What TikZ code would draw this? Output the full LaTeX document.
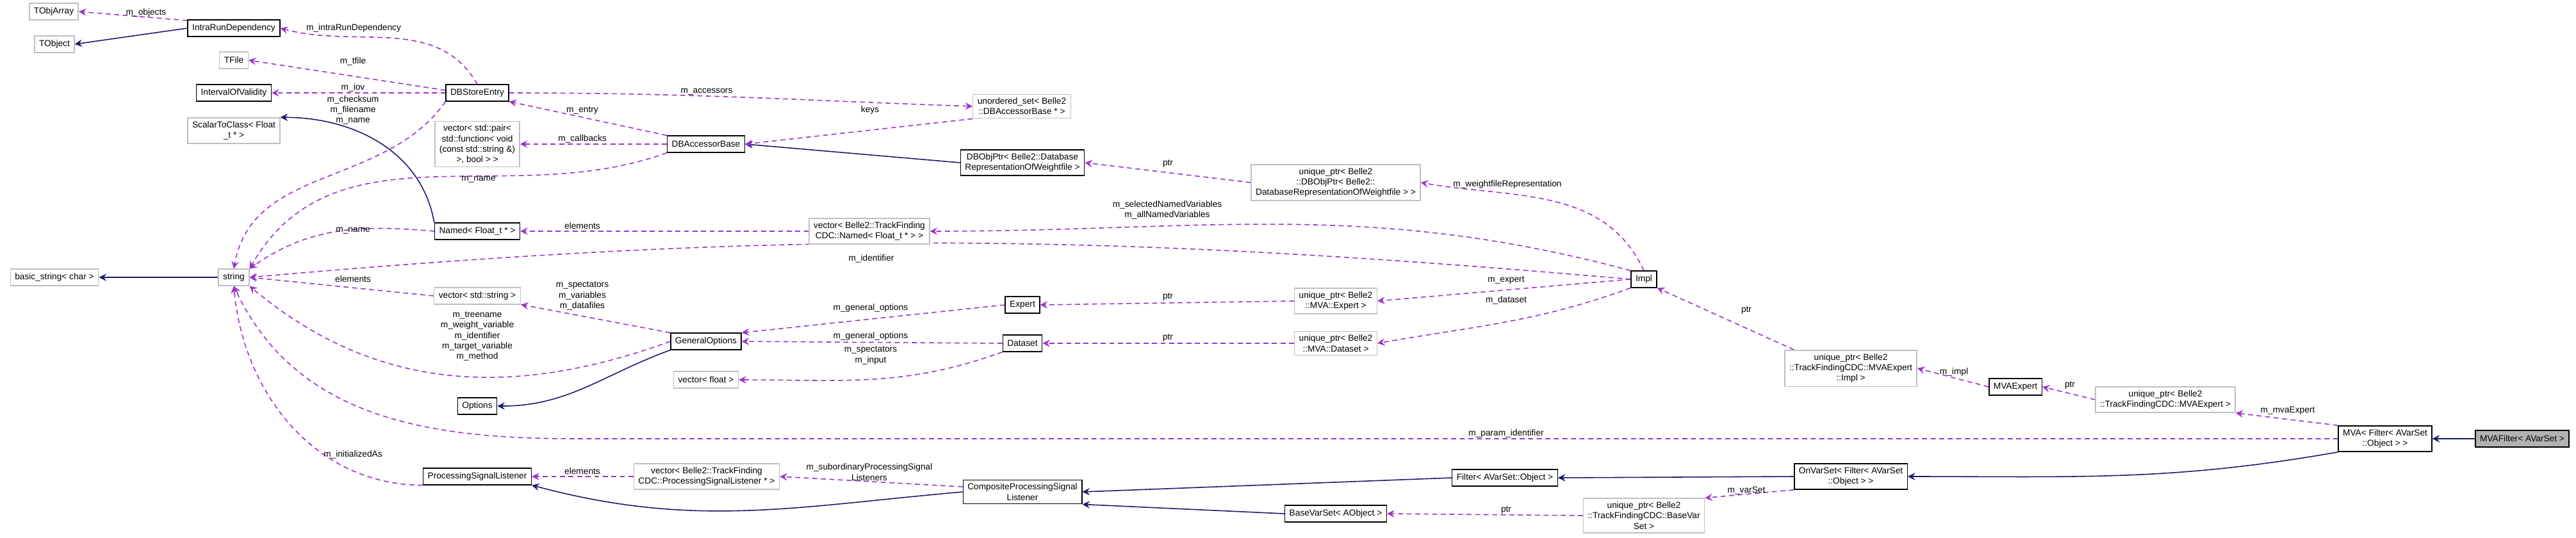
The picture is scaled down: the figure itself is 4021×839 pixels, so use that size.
\documentclass[tikz,border=0pt]{standalone}
\usepackage{fontspec}
\setmainfont{Liberation Sans}
\usepackage{tikz}
\usetikzlibrary{backgrounds}
\definecolor{navy}{rgb}{0.10,0.10,0.44}
\definecolor{usepurple}{rgb}{0.60,0.20,0.80}
\definecolor{grayline}{rgb}{0.75,0.75,0.75}
\newcommand{\tlt}{\textless}
\newcommand{\tgt}{\textgreater}
\tikzstyle{cls}=[rectangle,draw=black,line width=0.4pt,fill=white,align=center,inner xsep=2pt,inner ysep=1.6pt,minimum height=7.3pt]
\tikzstyle{ext}=[cls,draw=grayline]
\tikzstyle{cur}=[cls,fill=gray!60]
\tikzstyle{lbl}=[inner sep=0pt,align=center]
\tikzstyle{inherit}=[->,>=stealth,draw=navy,line width=0.45pt]
\tikzstyle{uses}=[->,>=stealth,draw=usepurple,dashed,dash pattern=on 2.2pt off 1.6pt,line width=0.45pt]
\pgfdeclarelayer{edgelayer}
\pgfdeclarelayer{nodelayer}
\pgfsetlayers{edgelayer,nodelayer,main}
\begin{document}
\begin{tikzpicture}[x=0.01cm,y=-0.01cm,font=\fontsize{3.9pt}{4.6pt}\selectfont]
	\useasboundingbox (0,0) rectangle (4021,839);
	\begin{pgfonlayer}{nodelayer}
		\node [style=ext] (TObjArray) at (84,18) {TObjArray};
		\node [style=cls] (IntraRun) at (365,44) {IntraRunDependency};
		\node [style=ext] (TObject) at (85,69) {TObject};
		\node [style=ext] (TFile) at (365,94) {TFile};
		\node [style=cls] (IoV) at (365,145) {IntervalOfValidity};
		\node [style=ext] (Scalar) at (365,204) {ScalarToClass\tlt{} Float\\\_t * \tgt};
		\node [style=cls] (StoreEntry) at (745,145) {DBStoreEntry};
		\node [style=ext] (VecPair) at (745,225) {vector\tlt{} std::pair\tlt\\ std::function\tlt{} void\\(const std::string \&)\\\tgt, bool \tgt{} \tgt};
		\node [style=cls] (Named) at (745,361) {Named\tlt{} Float\_t * \tgt};
		\node [style=ext] (BasicStr) at (85,433) {basic\_string\tlt{} char \tgt};
		\node [style=ext] (String) at (365,433) {string};
		\node [style=ext] (VecStr) at (745,462) {vector\tlt{} std::string \tgt};
		\node [style=cls] (Options) at (745,634) {Options};
		\node [style=cls] (PSL) at (745,744) {ProcessingSignalListener};
		\node [style=cls] (AccBase) at (1102,225) {DBAccessorBase};
		\node [style=cls] (GenOpt) at (1102,533) {GeneralOptions};
		\node [style=ext] (VecFloat) at (1102,593) {vector\tlt{} float \tgt};
		\node [style=ext] (VecPSL) at (1103,744) {vector\tlt{} Belle2::TrackFinding\\CDC::ProcessingSignalListener * \tgt};
		\node [style=ext] (VecNamed) at (1357,361) {vector\tlt{} Belle2::TrackFinding\\CDC::Named\tlt{} Float\_t * \tgt{} \tgt};
		\node [style=ext] (USet) at (1595,166) {unordered\_set\tlt{} Belle2\\::DBAccessorBase * \tgt};
		\node [style=cls] (ObjPtr) at (1596,254) {DBObjPtr\tlt{} Belle2::Database\\RepresentationOfWeightfile \tgt};
		\node [style=cls] (Expert) at (1596,476) {Expert};
		\node [style=cls] (Dataset) at (1596,536) {Dataset};
		\node [style=cls] (CPSL) at (1596,768) {CompositeProcessingSignal\\Listener};
		\node [style=ext] (UObjPtr) at (2085,285) {unique\_ptr\tlt{} Belle2\\::DBObjPtr\tlt{} Belle2::\\DatabaseRepresentationOfWeightfile \tgt{} \tgt};
		\node [style=ext] (UExpert) at (2085,470) {unique\_ptr\tlt{} Belle2\\::MVA::Expert \tgt};
		\node [style=ext] (UDataset) at (2085,536) {unique\_ptr\tlt{} Belle2\\::MVA::Dataset \tgt};
		\node [style=cls] (BaseVarSet) at (2085,802) {BaseVarSet\tlt{} AObject \tgt};
		\node [style=cls] (Filter) at (2349,746) {Filter\tlt{} AVarSet::Object \tgt};
		\node [style=cls] (Impl) at (2566,436) {Impl};
		\node [style=ext] (UBaseVar) at (2566,805) {unique\_ptr\tlt{} Belle2\\::TrackFindingCDC::BaseVar\\Set \tgt};
		\node [style=ext] (UImpl) at (2889,575) {unique\_ptr\tlt{} Belle2\\::TrackFindingCDC::MVAExpert\\::Impl \tgt};
		\node [style=cls] (OnVarSet) at (2889,744) {OnVarSet\tlt{} Filter\tlt{} AVarSet\\::Object \tgt{} \tgt};
		\node [style=cls] (MVAExpert) at (3146,604) {MVAExpert};
		\node [style=ext] (UMVAExpert) at (3380,624) {unique\_ptr\tlt{} Belle2\\::TrackFindingCDC::MVAExpert \tgt};
		\node [style=cls] (MVA) at (3723,685) {MVA\tlt{} Filter\tlt{} AVarSet\\::Object \tgt{} \tgt};
		\node [style=cur] (MVAFilter) at (3937,685) {MVAFilter\tlt{} AVarSet \tgt};

		% edge labels
		\node [style=lbl] (lObjects) at (228,20) {m\_objects};
		\node [style=lbl] (lIntra) at (552,44) {m\_intraRunDependency};
		\node [style=lbl] (lTFile) at (551,96) {m\_tfile};
		\node [style=lbl] (lIoV) at (551,137) {m\_iov};
		\node [style=lbl] (lCheck) at (551,172) {m\_checksum\\m\_filename\\m\_name};
		\node [style=lbl] (lEntry) at (909,172) {m\_entry};
		\node [style=lbl] (lCallbacks) at (909,217) {m\_callbacks};
		\node [style=lbl] (lAccName) at (747,280) {m\_name};
		\node [style=lbl] (lNamedName) at (551,360) {m\_name};
		\node [style=lbl] (lNamedElem) at (909,353) {elements};
		\node [style=lbl] (lAccessors) at (1103,143) {m\_accessors};
		\node [style=lbl] (lKeys) at (1358,172) {keys};
		\node [style=lbl] (lPtrObj) at (1823,255) {ptr};
		\node [style=lbl] (lSelected) at (1822,328) {m\_selectedNamedVariables\\m\_allNamedVariables};
		\node [style=lbl] (lIdent) at (1360,404) {m\_identifier};
		\node [style=lbl] (lStrElem) at (551,436) {elements};
		\node [style=lbl] (lSpect) at (909,462) {m\_spectators\\m\_variables\\m\_datafiles};
		\node [style=lbl] (lTree) at (745,525) {m\_treename\\m\_weight\_variable\\m\_identifier\\m\_target\_variable\\m\_method};
		\node [style=lbl] (lInit) at (551,710) {m\_initializedAs};
		\node [style=lbl] (lGenA) at (1359,481) {m\_general\_options};
		\node [style=lbl] (lGenB) at (1359,525) {m\_general\_options};
		\node [style=lbl] (lSpIn) at (1359,555) {m\_spectators\\m\_input};
		\node [style=lbl] (lPtrExp) at (1823,463) {ptr};
		\node [style=lbl] (lPtrData) at (1823,527) {ptr};
		\node [style=lbl] (lPslElem) at (909,736) {elements};
		\node [style=lbl] (lSubord) at (1357,737) {m\_subordinaryProcessingSignal\\Listeners};
		\node [style=lbl] (lWeight) at (2353,288) {m\_weightfileRepresentation};
		\node [style=lbl] (lExpert) at (2351,437) {m\_expert};
		\node [style=lbl] (lDataset) at (2351,469) {m\_dataset};
		\node [style=lbl] (lPtrImpl) at (2726,484) {ptr};
		\node [style=lbl] (lParam) at (2351,677) {m\_param\_identifier};
		\node [style=lbl] (lVarSet) at (2726,766) {m\_varSet};
		\node [style=lbl] (lPtrBase) at (2351,796) {ptr};
		\node [style=lbl] (lImpl) at (3050,581) {m\_impl};
		\node [style=lbl] (lPtrMVA) at (3231,601) {ptr};
		\node [style=lbl] (lMvaExp) at (3571,641) {m\_mvaExpert};
		\coordinate (paramBend) at (900,685);
	\end{pgfonlayer}
	\begin{pgfonlayer}{edgelayer}
		% inheritance
		\draw [style=inherit] (IntraRun.west) to (TObject.east);
		\draw [style=inherit] (Named.north west) to[out=100,in=0] (Scalar.north east);
		\draw [style=inherit] (ObjPtr.west) to (AccBase.east);
		\draw [style=inherit] (String.west) to (BasicStr.east);
		\draw [style=inherit] (GenOpt.south west) to[out=200,in=0] (Options.east);
		\draw [style=inherit] (CPSL.west) to[out=185,in=-15] (PSL.south east);
		\draw [style=inherit] (Filter.west) to (CPSL.east);
		\draw [style=inherit] (BaseVarSet.west) to (CPSL.south east);
		\draw [style=inherit] (OnVarSet.west) to (Filter.east);
		\draw [style=inherit] (MVA.south west) to[out=190,in=0] (OnVarSet.east);
		\draw [style=inherit] (MVAFilter.west) to (MVA.east);
		% members
		\draw [style=uses] (IntraRun.west) ++(0,-12) to (TObjArray.east);
		\draw [style=uses] (StoreEntry.north) to[out=120,in=-15] (IntraRun.east);
		\draw [style=uses] (StoreEntry.west) ++(0,-4) to (TFile.east);
		\draw [style=uses] (StoreEntry.west) to (IoV.east);
		\draw [style=uses] (StoreEntry.south west) to[out=235,in=80] (String.north);
		\draw [style=uses] (StoreEntry.east) to[out=0,in=178] (USet.west);
		\draw [style=uses] (AccBase.north west) to (StoreEntry.south east);
		\draw [style=uses] (AccBase.west) to (VecPair.east);
		\draw [style=uses] (AccBase.south west) to[out=200,in=60] (String.north east);
		\draw [style=uses] (USet.south west) to (AccBase.east);
		\draw [style=uses] (UObjPtr.west) to (ObjPtr.east);
		\draw [style=uses] (Named.west) to[out=175,in=35] (String.north east);
		\draw [style=uses] (VecNamed.west) to (Named.east);
		\draw [style=uses] (Impl.north) to[out=115,in=-10] (UObjPtr.east);
		\draw [style=uses] (Impl.north west) to[out=165,in=0] (VecNamed.east);
		\draw [style=uses] (Impl.west) to[out=175,in=5] (String.east);
		\draw [style=uses] (Impl.west) to (UExpert.east);
		\draw [style=uses] (Impl.south west) to[out=200,in=10] (UDataset.east);
		\draw [style=uses] (UExpert.west) to (Expert.east);
		\draw [style=uses] (UDataset.west) to (Dataset.east);
		\draw [style=uses] (Expert.west) to (GenOpt.north east);
		\draw [style=uses] (Dataset.west) to (GenOpt.east);
		\draw [style=uses] (Dataset.south west) to[out=200,in=0] (VecFloat.east);
		\draw [style=uses] (GenOpt.north west) to (VecStr.south east);
		\draw [style=uses] (GenOpt.west) to[out=200,in=-40] (String.south east);
		\draw [style=uses] (VecStr.west) to (String.east);
		\draw [style=uses] (PSL.south west) to[out=180,in=-85] (String.south);
		\draw [style=uses] (MVA.west) to (paramBend) to[out=180,in=-65] (String.south);
		\draw [style=uses] (VecPSL.west) to (PSL.east);
		\draw [style=uses] (CPSL.west) ++(0,-8) to (VecPSL.east);
		\draw [style=uses] (UImpl.north west) ++(15,0) to (Impl.south east);
		\draw [style=uses] (MVAExpert.west) to (UImpl.east);
		\draw [style=uses] (UMVAExpert.west) to (MVAExpert.east);
		\draw [style=uses] (MVA.north west) to (UMVAExpert.south east);
		\draw [style=uses] (OnVarSet.south west) to (UBaseVar.north east);
		\draw [style=uses] (UBaseVar.west) to (BaseVarSet.east);
	\end{pgfonlayer}
\end{tikzpicture}
\end{document}
